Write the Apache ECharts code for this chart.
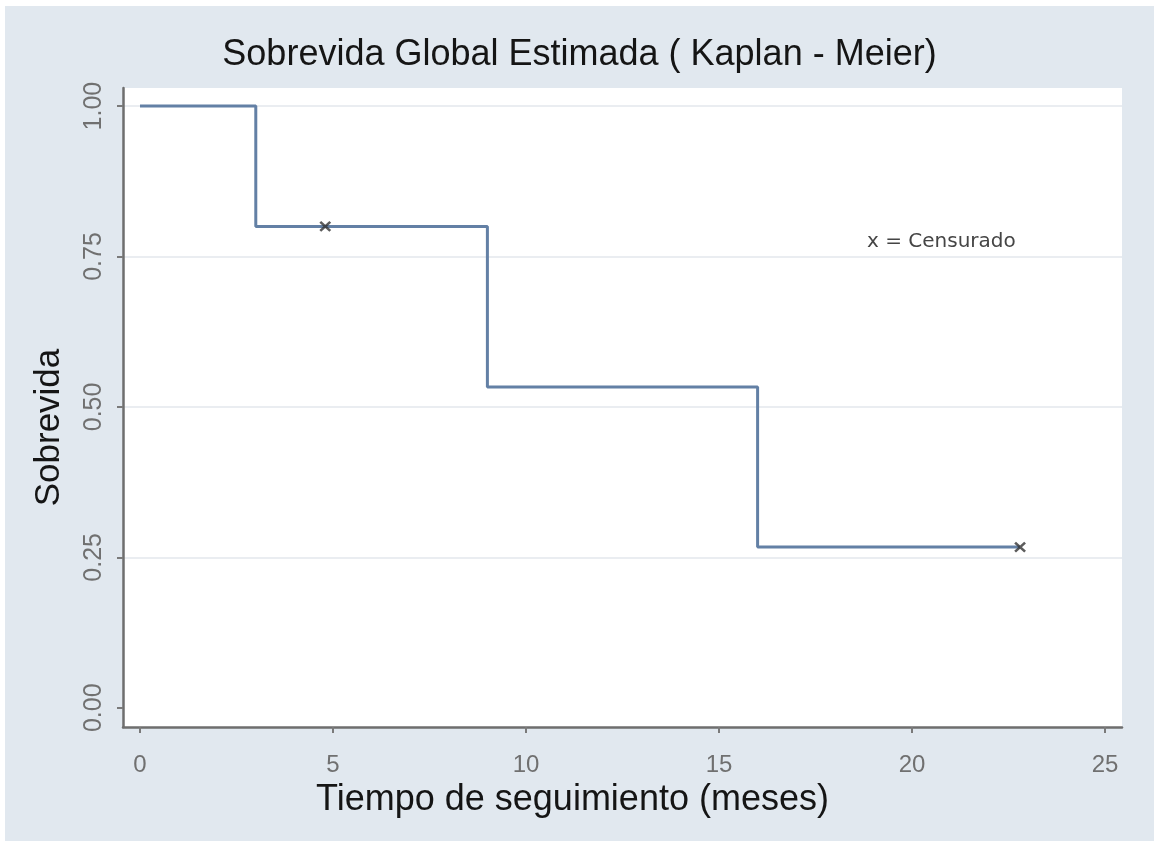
<!DOCTYPE html>
<html>
<head>
<meta charset="utf-8">
<script src="https://cdn.jsdelivr.net/npm/echarts@6/dist/echarts.min.js"></script>
<style>
  html, body { margin: 0; padding: 0; background: #ffffff; }
  #km { position: absolute; left: 5px; top: 6px; width: 1149px; height: 835px; }
</style>
</head>
<body>
<div id="km"></div>
<script>
// Kaplan-Meier step data (time in months, survival)
const timePoints = [0, 3, 9, 16, 22.8];
const survival = [1.0, 0.8, 0.533, 0.267, 0.267];
// censored observations
const censorTimes = [4.8, 22.8];
const censorSurvival = [0.8, 0.267];
// tick labels
const xTicks = [0, 5, 10, 15, 20, 25];
const yTicks = [0, 0.25, 0.5, 0.75, 1];

const stepData = timePoints.map((t, i) => [t, survival[i]]);
const censorData = censorTimes.map((t, i) => [t, censorSurvival[i]]);

const chart = echarts.init(document.getElementById("km"));
chart.setOption({
  backgroundColor: "#e1e8ef",
  animation: false,
  title: {
    text: "Sobrevida Global Estimada ( Kaplan - Meier)",
    left: "center",
    top: 26,
    textStyle: { fontFamily: "Liberation Sans", fontSize: 36, fontWeight: "normal", color: "#151515" }
  },
  grid: {
    left: 118, top: 82, width: 999, height: 639,
    show: true, backgroundColor: "#ffffff", borderWidth: 0
  },
  xAxis: {
    type: "value",
    min: -0.44, max: 25.44,
    name: "Tiempo de seguimiento (meses)",
    nameLocation: "middle",
    nameGap: 55,
    nameTextStyle: { fontFamily: "Liberation Sans", fontSize: 36, color: "#151515", padding: [0, 100, 0, 0] },
    axisLine: { show: true, onZero: false, lineStyle: { color: "#6e6e6e", width: 2.5 } },
    axisTick: { show: true, length: 6, customValues: xTicks, lineStyle: { color: "#7a7a7a", width: 2 } },
    axisLabel: { customValues: xTicks, margin: 26, fontFamily: "Liberation Sans", fontSize: 24, color: "#707070" },
    splitLine: { show: false }
  },
  yAxis: {
    type: "value",
    min: -0.032, max: 1.03,
    name: "Sobrevida",
    nameLocation: "middle",
    nameGap: 56,
    nameTextStyle: { fontFamily: "Liberation Sans", fontSize: 35, color: "#151515", padding: [0, 40, 0, 0] },
    axisLine: { show: true, onZero: false, lineStyle: { color: "#6e6e6e", width: 2.5 } },
    axisTick: { show: true, length: 6, customValues: yTicks, lineStyle: { color: "#7a7a7a", width: 2 } },
    axisLabel: {
      customValues: yTicks, rotate: 90, margin: 16,
      fontFamily: "Liberation Sans", fontSize: 25, color: "#707070",
      formatter: (v) => v.toFixed(2)
    },
    // no visible grid line at 0.00
    splitLine: { show: true, lineStyle: { color: ["#ffffff", "#eaedf1", "#eaedf1", "#eaedf1", "#eaedf1"], width: 2 } }
  },
  graphic: [{
    type: "text",
    left: 862, top: 226,
    style: { text: "x = Censurado", fontFamily: "DejaVu Sans", fontSize: 20, fill: "#454545" }
  }],
  series: [
    {
      name: "Sobrevida",
      type: "line",
      step: "end",
      data: stepData,
      showSymbol: false,
      lineStyle: { color: "#6380a5", width: 3 },
      z: 2
    },
    {
      name: "Censurado",
      type: "scatter",
      data: censorData,
      symbol: "path://M0,0L10,8M10,0L0,8",
      symbolSize: [10, 9],
      itemStyle: { color: "none", borderColor: "#333", borderWidth: 2.4 },
      z: 3
    }
  ]
});
</script>
</body>
</html>
